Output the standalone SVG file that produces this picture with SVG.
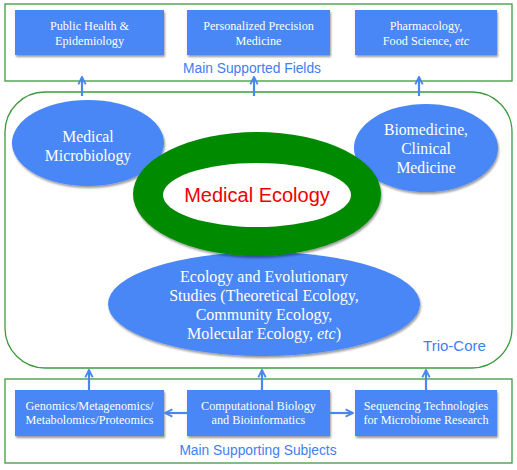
<svg xmlns="http://www.w3.org/2000/svg" width="517" height="470" viewBox="0 0 517 470">
<defs>
<filter id="sh" x="-10%" y="-10%" width="125%" height="130%">
<feGaussianBlur in="SourceAlpha" stdDeviation="1.2"/>
<feOffset dx="0.5" dy="1.5" result="b"/>
<feComponentTransfer><feFuncA type="linear" slope="0.4"/></feComponentTransfer>
<feMerge><feMergeNode/><feMergeNode in="SourceGraphic"/></feMerge>
</filter>
<marker id="ah" viewBox="0 0 10 10" refX="9" refY="5" markerWidth="4.2" markerHeight="4.2" orient="auto">
<path d="M1,1 L9,5 L1,9" fill="none" stroke="#4a86f0" stroke-width="2"/>
</marker>
<style>
.frame{fill:#fff;stroke:#3c9a3c;stroke-width:1.3}
.box{fill:#4a86f6;filter:url(#sh)}
.ell{fill:#4a86f6;filter:url(#sh)}
.bt{font-family:"Liberation Serif",serif;font-size:12.2px;fill:#fff;text-anchor:middle}
.et{font-family:"Liberation Serif",serif;font-size:15.7px;fill:#fff;text-anchor:middle}
.lab{font-family:"Liberation Sans",Arial,sans-serif;font-size:13.8px;fill:#3f7ef3;text-anchor:middle}
.con{stroke:#4a86f0;stroke-width:2.2;fill:none;marker-end:url(#ah)}
</style>
</defs>
<rect width="517" height="470" fill="#fff"/>
<g id="supported-fields">
<rect class="frame" x="5" y="4" width="507" height="77"/>
<text class="lab" x="252" y="73">Main Supported Fields</text>
</g>
<g id="public-health">
<rect class="box" x="15" y="10" width="149" height="45"/>
<text class="bt" x="89.5" y="30">Public Health &amp;</text>
<text class="bt" x="89.5" y="45">Epidemiology</text>
</g>
<g id="precision-medicine">
<rect class="box" x="187" y="10" width="143" height="45"/>
<text class="bt" x="258.5" y="30">Personalized Precision</text>
<text class="bt" x="258.5" y="45">Medicine</text>
</g>
<g id="pharmacology">
<rect class="box" x="355" y="10" width="142" height="45"/>
<text class="bt" x="426" y="30">Pharmacology,</text>
<text class="bt" x="426" y="45">Food Science, <tspan font-style="italic">etc</tspan></text>
</g>
<g id="trio-core">
<rect class="frame" x="5" y="92" width="507" height="276" rx="40" ry="40"/>
<text class="lab" x="454.5" y="351" style="font-size:15px">Trio-Core</text>
</g>
<g id="medical-microbiology">
<ellipse class="ell" cx="88" cy="143" rx="76" ry="43"/>
<text class="et" x="88" y="142">Medical</text>
<text class="et" x="88" y="161">Microbiology</text>
</g>
<g id="biomedicine">
<ellipse class="ell" cx="426" cy="148" rx="72" ry="44"/>
<text class="et" x="426" y="135">Biomedicine,</text>
<text class="et" x="426" y="154">Clinical</text>
<text class="et" x="426" y="173">Medicine</text>
</g>
<g id="ecology">
<ellipse class="ell" cx="264" cy="304" rx="156" ry="52"/>
<text class="et" x="264" y="282" style="font-size:16px">Ecology and Evolutionary</text>
<text class="et" x="264" y="301" style="font-size:16px">Studies (Theoretical Ecology,</text>
<text class="et" x="264" y="320" style="font-size:16px">Community Ecology,</text>
<text class="et" x="264" y="339" style="font-size:16px">Molecular Ecology, <tspan font-style="italic">etc</tspan>)</text>
</g>
<g id="medical-ecology">
<ellipse cx="257" cy="194" rx="124" ry="62" fill="#028a02" filter="url(#sh)"/>
<ellipse cx="257" cy="195" rx="94" ry="32" fill="#fff"/>
<text x="257" y="202" text-anchor="middle" font-family="'Liberation Sans',Arial,sans-serif" font-size="20" fill="#f00000">Medical Ecology</text>
</g>
<g id="supporting-subjects">
<rect class="frame" x="5" y="379" width="507" height="84"/>
<text class="lab" x="258" y="455">Main Supporting Subjects</text>
</g>
<g id="genomics">
<rect class="box" x="15" y="390" width="149" height="46"/>
<text class="bt" x="89.5" y="410">Genomics/Metagenomics/</text>
<text class="bt" x="89.5" y="424">Metabolomics/Proteomics</text>
</g>
<g id="computational-biology">
<rect class="box" x="187" y="390" width="143" height="46"/>
<text class="bt" x="258.5" y="410">Computational Biology</text>
<text class="bt" x="258.5" y="424">and Bioinformatics</text>
</g>
<g id="sequencing">
<rect class="box" x="355" y="390" width="142" height="46"/>
<text class="bt" x="426" y="410">Sequencing Technologies</text>
<text class="bt" x="426" y="424">for Microbiome Research</text>
</g>
<g id="connectors">
<line class="con" x1="82" y1="96" x2="82" y2="77"/>
<line class="con" x1="254" y1="96" x2="254" y2="77"/>
<line class="con" x1="419" y1="96" x2="419" y2="77"/>
<line class="con" x1="89" y1="390" x2="89" y2="370"/>
<line class="con" x1="262" y1="390" x2="262" y2="370"/>
<line class="con" x1="426" y1="390" x2="426" y2="370"/>
<line class="con" x1="187" y1="413" x2="165" y2="413"/>
<line class="con" x1="330" y1="413" x2="353" y2="413"/>
</g>
</svg>
